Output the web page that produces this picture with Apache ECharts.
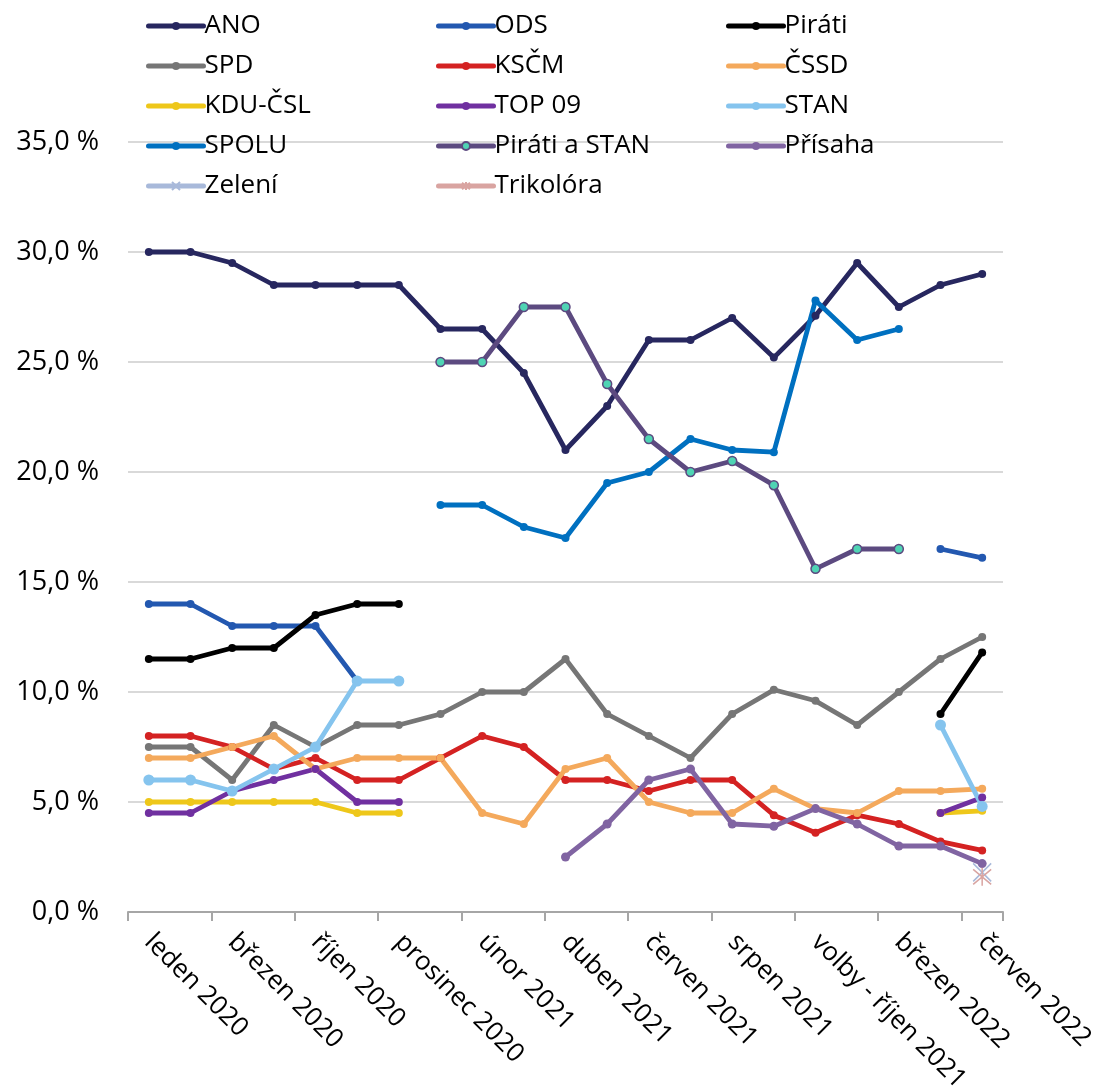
<!DOCTYPE html>
<html>
<head>
<meta charset="utf-8">
<script src="https://cdn.jsdelivr.net/npm/echarts@6/dist/echarts.min.js"></script>
<style>
html,body{margin:0;padding:0;background:#fff;}
#chart{width:1093px;height:1088px;}
</style>
</head>
<body>
<div id="chart"></div>
<script>
const categories = ["leden 2020","únor 2020","březen 2020","září 2020","říjen 2020","listopad 2020","prosinec 2020","leden 2021","únor 2021","březen 2021","duben 2021","květen 2021","červen 2021","červenec 2021","srpen 2021","září 2021","volby - říjen 2021","leden 2022","březen 2022","květen 2022","červen 2022"];
const N = null;
const ANO = [30,30,29.5,28.5,28.5,28.5,28.5,26.5,26.5,24.5,21,23,26,26,27,25.2,27.1,29.5,27.5,28.5,29];
const ODS = [14,14,13,13,13,10.5,N,N,N,N,N,N,N,N,N,N,N,N,N,16.5,16.1];
const Pirati = [11.5,11.5,12,12,13.5,14,14,N,N,N,N,N,N,N,N,N,N,N,N,9.0,11.8];
const SPD = [7.5,7.5,6,8.5,7.5,8.5,8.5,9,10,10,11.5,9,8,7,9,10.1,9.6,8.5,10,11.5,12.5];
const KSCM = [8,8,7.5,6.5,7,6,6,7,8,7.5,6,6,5.5,6,6,4.4,3.6,4.4,4,3.2,2.8];
const CSSD = [7,7,7.5,8,6.5,7,7,7,4.5,4,6.5,7,5,4.5,4.5,5.6,4.7,4.5,5.5,5.5,5.6];
const KDU = [5,5,5,5,5,4.5,4.5,N,N,N,N,N,N,N,N,N,N,N,N,4.5,4.6];
const TOP09 = [4.5,4.5,5.5,6,6.5,5,5,N,N,N,N,N,N,N,N,N,N,N,N,4.5,5.2];
const STAN = [6,6,5.5,6.5,7.5,10.5,10.5,N,N,N,N,N,N,N,N,N,N,N,N,8.5,4.8];
const SPOLU = [N,N,N,N,N,N,N,18.5,18.5,17.5,17,19.5,20,21.5,21,20.9,27.8,26,26.5,N,N];
const PirSTAN = [N,N,N,N,N,N,N,25,25,27.5,27.5,24,21.5,20,20.5,19.4,15.6,16.5,16.5,N,N];
const Prisaha = [N,N,N,N,N,N,N,N,N,N,2.5,4,6,6.5,4,3.9,4.7,4,3,3,2.2];
const Zeleni = [N,N,N,N,N,N,N,N,N,N,N,N,N,N,N,N,N,N,N,N,1.8];
const Trikolora = [N,N,N,N,N,N,N,N,N,N,N,N,N,N,N,N,N,N,N,N,1.6];
const yTicks = [0,5,10,15,20,25,30,35];

const FONT = "'Open Sans', 'Noto Sans', sans-serif";
function mk(name, data, color, opts) {
  opts = opts || {};
  return {
    name: name, type: 'line', data: data,
    symbol: opts.symbol || 'circle',
    symbolSize: opts.size || 8,
    connectNulls: false,
    lineStyle: {color: color, width: 4.8, cap: 'round', join: 'round'},
    itemStyle: Object.assign({color: color}, opts.item || {}),
    emphasis: {disabled: true},
    animation: false
  };
}
const X_PATH = 'path://M0,0L10,10M10,0L0,10';
const AST_PATH = 'path://M0,0L10,10M10,0L0,10M5,-1L5,11';

const series = [
  mk('ANO', ANO, '#27275f'),
  mk('ODS', ODS, '#2358b0'),
  mk('Piráti', Pirati, '#000000'),
  mk('SPD', SPD, '#767676'),
  mk('KSČM', KSCM, '#d42222'),
  mk('ČSSD', CSSD, '#f4a95c'),
  mk('KDU-ČSL', KDU, '#eec71a'),
  mk('TOP 09', TOP09, '#7030a0'),
  mk('STAN', STAN, '#85c4ee', {size: 11}),
  mk('SPOLU', SPOLU, '#0070c0'),
  mk('Piráti a STAN', PirSTAN, '#5c4a80', {size: 9, item: {color: '#4fd4b4', borderColor: '#5c4a80', borderWidth: 1.5}}),
  mk('Přísaha', Prisaha, '#8064a2', {size: 9}),
  mk('Zelení', Zeleni, '#a8b9da', {symbol: X_PATH, size: 18, item: {color: 'rgba(0,0,0,0)', borderColor: '#a8b9da', borderWidth: 1.5}}),
  mk('Trikolóra', Trikolora, '#d9a4a1', {symbol: AST_PATH, size: 18, item: {color: 'rgba(0,0,0,0)', borderColor: '#d9a4a1', borderWidth: 1.5}})
];

function legend(names, left) {
  return {
    data: names, orient: 'vertical', left: left, top: 8,
    itemWidth: 55, itemHeight: 10, itemGap: 14,
    lineStyle: {width: 5},
    textStyle: {fontFamily: FONT, fontSize: 26, color: '#000', lineHeight: 26, padding: [0,0,0,-4]},
    selectedMode: false
  };
}

const chart = echarts.init(document.getElementById('chart'), null, {renderer: 'canvas'});
chart.setOption({
  backgroundColor: '#fff',
  animation: false,
  legend: [
    legend(['ANO','SPD','KDU-ČSL','SPOLU','Zelení'], 141),
    legend(['ODS','KSČM','TOP 09','Piráti a STAN','Trikolóra'], 431),
    legend(['Piráti','ČSSD','STAN','Přísaha'], 721)
  ],
  grid: {left: 128, right: 90, top: 142, bottom: 176, containLabel: false, outerBoundsMode: 'none'},
  xAxis: {
    type: 'category', data: categories, boundaryGap: true,
    axisLine: {lineStyle: {color: '#a6a6a6', width: 2}},
    axisTick: {show: true, interval: 1, length: 9, lineStyle: {color: '#a6a6a6', width: 2}},
    axisLabel: {interval: 1, rotate: -45, margin: 26, fontFamily: FONT, fontSize: 26, color: '#000', hideOverlap: false}
  },
  yAxis: {
    type: 'value', min: yTicks[0], max: yTicks[yTicks.length-1], interval: 5,
    axisLine: {show: false}, axisTick: {show: false},
    splitLine: {lineStyle: {color: '#d9d9d9', width: 2}},
    axisLabel: {margin: 29, fontFamily: FONT, fontSize: 27, color: '#000',
      formatter: v => v.toFixed(1).replace('.', ',') + ' %'}
  },
  series: series
});
</script>
</body>
</html>
